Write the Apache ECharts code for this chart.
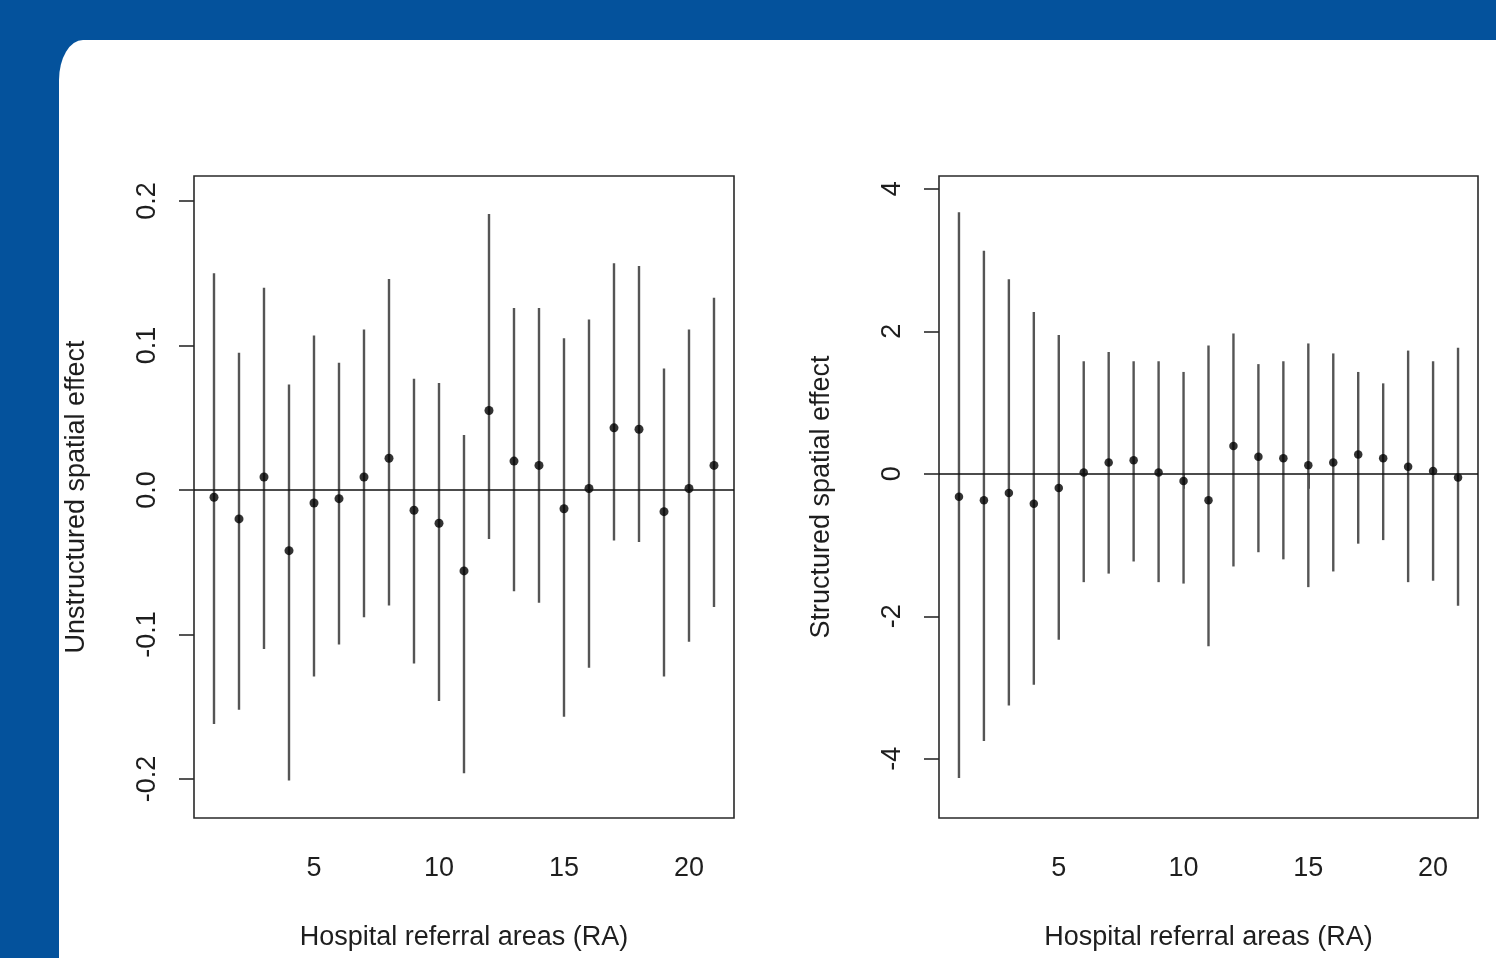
<!DOCTYPE html>
<html>
<head>
<meta charset="utf-8">
<script src="https://cdn.jsdelivr.net/npm/echarts@6/dist/echarts.min.js"></script>
<style>
  html, body { margin: 0; padding: 0; width: 1496px; height: 958px; overflow: hidden; background: #04529c; }
  #card { position: absolute; left: 59px; top: 40px; right: 0; bottom: 0; background: #fff; border-top-left-radius: 24px 40px; }
  #main { position: absolute; left: 0; top: 0; width: 1496px; height: 958px; }
</style>
</head>
<body>
<div id="card"></div>
<div id="main"></div>
<script>
// hospital referral areas 1..21
const ra = [1, 2, 3, 4, 5, 6, 7, 8, 9, 10, 11, 12, 13, 14, 15, 16, 17, 18, 19, 20, 21]

// unstructured spatial effect (left panel)
const leftMean  = [-0.005, -0.020, 0.009, -0.042, -0.009, -0.006, 0.009, 0.022, -0.014, -0.023, -0.056, 0.055, 0.020, 0.017, -0.013, 0.001, 0.043, 0.042, -0.015, 0.001, 0.017]
const leftLower = [-0.162, -0.152, -0.110, -0.201, -0.129, -0.107, -0.088, -0.080, -0.120, -0.146, -0.196, -0.034, -0.070, -0.078, -0.157, -0.123, -0.035, -0.036, -0.129, -0.105, -0.081]
const leftUpper = [0.150, 0.095, 0.140, 0.073, 0.107, 0.088, 0.111, 0.146, 0.077, 0.074, 0.038, 0.191, 0.126, 0.126, 0.105, 0.118, 0.157, 0.155, 0.084, 0.111, 0.133]

// structured spatial effect (right panel)
const rightMean  = [-0.32, -0.37, -0.27, -0.42, -0.20, 0.02, 0.16, 0.19, 0.02, -0.10, -0.37, 0.39, 0.24, 0.22, 0.12, 0.16, 0.27, 0.22, 0.10, 0.04, -0.05]
const rightLower = [-4.27, -3.75, -3.25, -2.96, -2.33, -1.52, -1.40, -1.23, -1.52, -1.54, -2.42, -1.30, -1.10, -1.20, -1.59, -1.37, -0.98, -0.93, -1.52, -1.50, -1.85]
const rightUpper = [3.67, 3.13, 2.73, 2.27, 1.95, 1.58, 1.71, 1.58, 1.58, 1.43, 1.80, 1.97, 1.54, 1.58, 1.83, 1.69, 1.43, 1.27, 1.73, 1.58, 1.77]

// tick labels
const xTicks = [5, 10, 15, 20]
const leftYTicks = [-0.2, -0.1, 0.0, 0.1, 0.2]
const rightYTicks = [-4, -2, 0, 2, 4]

const xTitle = 'Hospital referral areas (RA)'
const leftTitle = 'Unstructured spatial effect'
const rightTitle = 'Structured spatial effect'

const font = "'Liberation Sans', Arial, sans-serif"
const textColor = '#1e1e1e'

const myChart = echarts.init(document.getElementById('main'), null, { renderer: 'canvas' })

const makeXAxis = (gridIndex) => ({
  type: 'value',
  gridIndex: gridIndex,
  min: 0.2,
  max: 21.8,
  name: xTitle,
  nameLocation: 'middle',
  nameGap: 106,
  nameTextStyle: { fontSize: 27, color: textColor, fontFamily: font },
  axisLine: { show: false },
  axisTick: { show: true, length: 15, customValues: xTicks, lineStyle: { color: '#2a2a2a', width: 1.6 } },
  axisLabel: { customValues: xTicks, fontSize: 27, color: textColor, fontFamily: font, margin: 37 },
  splitLine: { show: false },
})

const makeYAxis = (gridIndex, min, max, ticks, title, digits) => ({
  type: 'value',
  gridIndex: gridIndex,
  min: min,
  max: max,
  name: title,
  nameLocation: 'middle',
  nameGap: 104,
  nameTextStyle: { fontSize: 27, color: textColor, fontFamily: font },
  axisLine: { show: false },
  axisTick: { show: true, length: 15, customValues: ticks, lineStyle: { color: '#2a2a2a', width: 1.6 } },
  axisLabel: {
    customValues: ticks,
    rotate: 90,
    fontSize: 27,
    color: textColor,
    fontFamily: font,
    margin: 33,
    formatter: (v) => Number(v).toFixed(digits),
  },
  splitLine: { show: false },
})

const errorBars = (axisIndex, lower, upper) => ({
  type: 'custom',
  xAxisIndex: axisIndex,
  yAxisIndex: axisIndex,
  silent: true,
  z: 2,
  data: ra.map((r, i) => [r, lower[i], upper[i]]),
  encode: { x: 0, y: [1, 2] },
  renderItem: (params, api) => {
    const x = api.value(0)
    const lo = api.coord([x, api.value(1)])
    const hi = api.coord([x, api.value(2)])
    return {
      type: 'line',
      shape: { x1: lo[0], y1: lo[1], x2: hi[0], y2: hi[1] },
      style: { stroke: '#555', lineWidth: 2.4 },
    }
  },
})

const points = (axisIndex, mean, size) => ({
  type: 'scatter',
  xAxisIndex: axisIndex,
  yAxisIndex: axisIndex,
  silent: true,
  z: 3,
  symbol: 'circle',
  symbolSize: size,
  itemStyle: { color: '#000' },
  data: ra.map((r, i) => [r, mean[i]]),
  markLine: {
    silent: true,
    symbol: 'none',
    label: { show: false },
    lineStyle: { color: '#111', width: 1.6, type: 'solid' },
    data: [{ yAxis: 0 }],
  },
})

myChart.setOption({
  animation: false,
  backgroundColor: 'transparent',
  grid: [
    { left: 194, top: 176, width: 540, height: 642, show: true, borderColor: '#2a2a2a', borderWidth: 1.6, backgroundColor: 'transparent' },
    { left: 939, top: 176, width: 539, height: 642, show: true, borderColor: '#2a2a2a', borderWidth: 1.6, backgroundColor: 'transparent' },
  ],
  xAxis: [makeXAxis(0), makeXAxis(1)],
  yAxis: [
    makeYAxis(0, -0.227, 0.2173, leftYTicks, leftTitle, 1),
    makeYAxis(1, -4.83, 4.18, rightYTicks, rightTitle, 0),
  ],
  series: [
    errorBars(0, leftLower, leftUpper),
    points(0, leftMean, 9),
    errorBars(1, rightLower, rightUpper),
    points(1, rightMean, 8.5),
  ],
})
</script>
</body>
</html>
